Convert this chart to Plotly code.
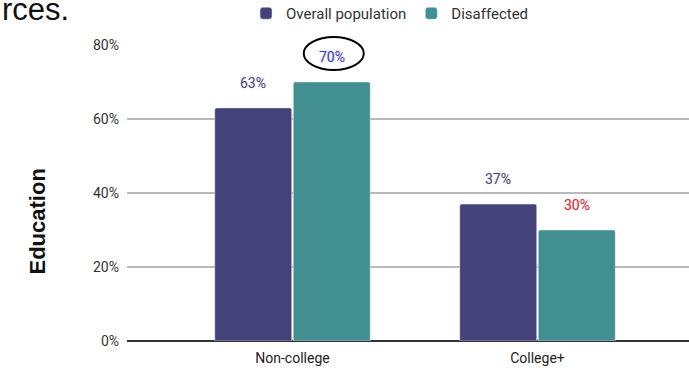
import plotly.graph_objects as go

# Share of each group by education level
categories = ["Non-college", "College+"]
overall_population = [63, 37]
disaffected = [70, 30]
y_ticks = [0, 20, 40, 60, 80]
y_tick_labels = ["0%", "20%", "40%", "60%", "80%"]

W, H = 689, 368
PURPLE = "#45427a"
TEAL = "#418f91"

X_DOMAIN = [127 / W, 1.0]
X_RANGE = [(127 - 292.5) / 245, (689 - 292.5) / 245]
Y_DOMAIN = [(H - 341) / H, (H - 45) / H]
Y_RANGE = [0, 80]


def to_paper(v, domain, rng):
    return domain[0] + (v - rng[0]) / (rng[1] - rng[0]) * (domain[1] - domain[0])


fig = go.Figure()
fig.add_trace(go.Bar(
    name="Overall population", x=categories, y=overall_population,
    marker=dict(color=PURPLE, cornerradius=2), hoverinfo="skip",
))
fig.add_trace(go.Bar(
    name="Disaffected", x=categories, y=disaffected,
    marker=dict(color=TEAL, cornerradius=2), hoverinfo="skip",
))

# Value labels above each bar
slot = 0.641 / 2
offsets = [-slot / 2, slot / 2]
label_colors = [["#4f4d73", "#3a3ad6"], ["#4f4d73", "#e0282a"]]
series = [overall_population, disaffected]
for ci, cat in enumerate(categories):
    for si, vals in enumerate(series):
        fig.add_annotation(
            x=ci + offsets[si], y=vals[ci], xref="x", yref="y",
            text=f"{vals[ci]}%", showarrow=False, yshift=25,
            font=dict(family="Roboto", size=14, color=label_colors[ci][si],
                      shadow="0px 0px 2px #c8c8d8"),
        )

# Ellipse highlighting the disaffected non-college value (paper refs so it
# is not clipped by the plot area)
fig.add_shape(
    type="circle", xref="paper", yref="paper",
    xsizemode="pixel", ysizemode="pixel",
    xanchor=to_paper(0 + offsets[1], X_DOMAIN, X_RANGE),
    yanchor=to_paper(disaffected[0], Y_DOMAIN, Y_RANGE),
    x0=-28, x1=32, y0=12, y1=45,
    line=dict(color="black", width=2),
)

# Partially visible heading and the vertical axis caption
fig.add_annotation(
    x=0, y=1.0, xref="paper", yref="paper", xanchor="left", yanchor="top",
    yshift=10, text="rces.", showarrow=False,
    font=dict(family="Liberation Sans", size=31, color="#111"),
)
fig.add_annotation(
    x=22 / W, y=1 - 222 / H, xref="paper", yref="paper",
    text="<b>Education</b>", textangle=-90, showarrow=False,
    font=dict(family="Liberation Sans", size=22, color="#111"),
)

fig.update_layout(
    width=W, height=H,
    margin=dict(l=0, r=0, t=0, b=0, autoexpand=False),
    plot_bgcolor="white", paper_bgcolor="white",
    barmode="group", bargap=0.359, bargroupgap=0.02,
    showlegend=True,
    legend=dict(
        orientation="h", x=246 / W, y=1.0 + 3 / H, xanchor="left", yanchor="top",
        font=dict(family="Roboto", size=15, color="#333"),
        bgcolor="rgba(0,0,0,0)", itemclick=False, itemdoubleclick=False,
    ),
    xaxis=dict(
        domain=X_DOMAIN, range=X_RANGE,
        tickfont=dict(family="Roboto", size=14, color="#222"),
        showgrid=False, showline=False, ticks="", ticklabelstandoff=7,
    ),
    yaxis=dict(
        domain=Y_DOMAIN, range=Y_RANGE,
        tickvals=y_ticks, ticktext=y_tick_labels,
        tickfont=dict(family="Roboto", size=14, color="#333"),
        showgrid=True, gridcolor="#b9b9b9", gridwidth=1.5,
        zeroline=True, zerolinecolor="#333", zerolinewidth=1.5,
        ticks="", ticklabelstandoff=7,
    ),
)

fig.write_html("out.html")
